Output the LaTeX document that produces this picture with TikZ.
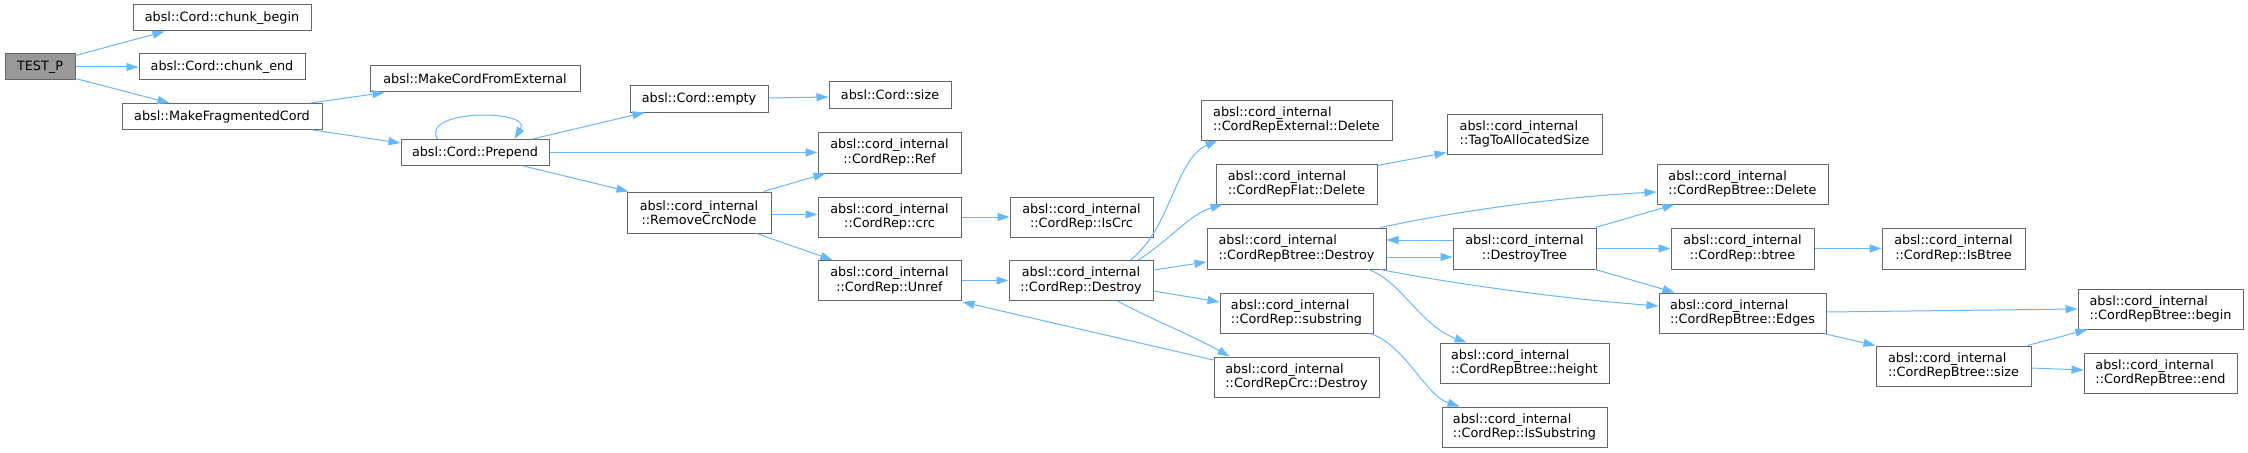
\documentclass[tikz,border=0pt]{standalone}
\usepackage{fontspec}
\setmainfont{DejaVu Sans}
\usetikzlibrary{arrows.meta,calc}
\definecolor{edgec}{HTML}{63B8FF}
\definecolor{boxc}{HTML}{666666}
\definecolor{rootc}{HTML}{999999}
\tikzset{
  fn/.style 2 args={draw=boxc, line width=0.75pt, fill=white, inner sep=0pt,
    minimum width=#1*0.75pt, minimum height=#2*0.75pt,
    font=\fontsize{9.6}{10.7}\selectfont, text=black},
  lft/.style={align=left},
  ctr/.style={align=center},
  call/.style={draw=edgec, line width=0.75pt, -{Triangle[length=9pt,width=6pt]}}
}
\begin{document}
\begin{tikzpicture}[x=0.75pt,y=-0.75pt]
\useasboundingbox (0,0) rectangle (2248,453);
% column 0-1
\node[fn={70}{26}, fill=rootc] (testp) at (40,67) {TEST\_P};
\node[fn={178}{26}] (chunkbegin) at (222,18) {absl::Cord::chunk\_begin};
\node[fn={166}{26}] (chunkend) at (222,67) {absl::Cord::chunk\_end};
\node[fn={200}{26}] (mfc) at (222,116.5) {absl::MakeFragmentedCord};
% column 2
\node[fn={210}{26}] (mcfe) at (475,79) {absl::MakeCordFromExternal};
\node[fn={148}{26}] (prepend) at (475,152.5) {absl::Cord::Prepend};
% column 3
\node[fn={138}{26}] (empty) at (699,99) {absl::Cord::empty};
\node[fn={144}{41}, ctr] (rcn) at (699,212.5) {absl::cord\_internal\\::RemoveCrcNode};
% column 4
\node[fn={122}{26}] (csize) at (890,95) {absl::Cord::size};
\node[fn={143}{41}, ctr] (ref) at (889.5,152.5) {absl::cord\_internal\\::CordRep::Ref};
\node[fn={143}{40}, ctr] (crc) at (889.5,217) {absl::cord\_internal\\::CordRep::crc};
\node[fn={143}{40}, ctr] (unref) at (889.5,280.5) {absl::cord\_internal\\::CordRep::Unref};
% column 5
\node[fn={143}{40}, ctr] (iscrc) at (1081.5,217) {absl::cord\_internal\\::CordRep::IsCrc};
\node[fn={144}{40}, ctr] (destroy) at (1081,280.5) {absl::cord\_internal\\::CordRep::Destroy};
% column 6
\node[fn={191}{40}, lft] (extdel) at (1296.5,120) {absl::cord\_internal\\::CordRepExternal::Delete};
\node[fn={161}{40}, lft] (flatdel) at (1296.5,184) {absl::cord\_internal\\::CordRepFlat::Delete};
\node[fn={179}{41}, lft] (btdestroy) at (1296.5,248.5) {absl::cord\_internal\\::CordRepBtree::Destroy};
\node[fn={153}{40}, lft] (substr) at (1296.5,313) {absl::cord\_internal\\::CordRep::substring};
\node[fn={165}{40}, lft] (crcdestroy) at (1296.5,377) {absl::cord\_internal\\::CordRepCrc::Destroy};
% column 7
\node[fn={155}{40}, lft] (tag) at (1524.5,134) {absl::cord\_internal\\::TagToAllocatedSize};
\node[fn={143}{41}, ctr] (dtree) at (1524.5,248.5) {absl::cord\_internal\\::DestroyTree};
\node[fn={169}{40}, lft] (height) at (1524.5,363) {absl::cord\_internal\\::CordRepBtree::height};
\node[fn={165}{40}, lft] (issub) at (1524.5,427) {absl::cord\_internal\\::CordRep::IsSubstring};
% column 8
\node[fn={171}{40}, lft] (btdel) at (1742.5,184) {absl::cord\_internal\\::CordRepBtree::Delete};
\node[fn={143}{41}, ctr] (btree) at (1742.5,248.5) {absl::cord\_internal\\::CordRep::btree};
\node[fn={167}{40}, lft] (edges) at (1742.5,313) {absl::cord\_internal\\::CordRepBtree::Edges};
% column 9
\node[fn={143}{41}, ctr] (isbtree) at (1953.5,248.5) {absl::cord\_internal\\::CordRep::IsBtree};
\node[fn={155}{40}, lft] (btsize) at (1953.5,366) {absl::cord\_internal\\::CordRepBtree::size};
% column 10
\node[fn={165}{40}, lft] (begin) at (2160.5,309) {absl::cord\_internal\\::CordRepBtree::begin};
\node[fn={153}{40}, lft] (end) at (2160.5,373) {absl::cord\_internal\\::CordRepBtree::end};

% edges
\draw[call] ($(testp.north east)+(0,2)$) -- ($(chunkbegin.south west)+(32,0)$);
\draw[call] (testp.east) -- (chunkend.west);
\draw[call] ($(testp.south east)+(0,-2)$) -- ($(mfc.north west)+(48,0)$);
\draw[call] ($(mfc.north east)+(-12,0)$) -- ($(mcfe.south west)+(15,0)$);
\draw[call] ($(mfc.south east)+(-10,0)$) -- ($(prepend.west)+(0,-9.5)$);
\draw[call] ($(prepend.north west)+(37,0)$) .. controls ($(prepend.north west)+(19,-30)$) and ($(prepend.north west)+(132,-30)$) .. ($(prepend.north west)+(114,0)$);
\draw[call] ($(prepend.north east)+(-17,0)$) -- ($(empty.south west)+(15,0)$);
\draw[call] (prepend.east) -- (ref.west);
\draw[call] ($(prepend.south east)+(-26,0)$) -- ($(rcn.north west)+(2,0)$);
\draw[call] ($(empty.east)+(0,-1)$) -- ($(csize.west)+(0,2)$);
\draw[call] ($(rcn.north east)+(-8,0)$) -- ($(ref.south west)+(8,0)$);
\draw[call] ($(rcn.east)+(0,2)$) -- ($(crc.west)+(0,-2.5)$);
\draw[call] ($(rcn.south east)+(-15,0)$) -- ($(unref.north west)+(15,0)$);
\draw[call] (crc.east) -- (iscrc.west);
\draw[call] (unref.east) -- (destroy.west);
\draw[call] ($(destroy.north east)+(-23,0)$) .. controls ($(destroy.north east)+(17,-31)$) and ($(destroy.north east)+(22,-101)$) .. ($(extdel.south west)+(17,0)$);
\draw[call] ($(destroy.north east)+(-15,0)$) .. controls ($(destroy.north east)+(17,-21)$) and ($(destroy.north east)+(37,-46)$) .. ($(flatdel.south west)+(7,0)$);
\draw[call] ($(destroy.east)+(0,-10.5)$) -- ($(btdestroy.west)+(0,13.5)$);
\draw[call] ($(destroy.east)+(0,10.5)$) -- ($(substr.west)+(0,-11)$);
\draw[call] ($(destroy.south east)+(-36,0)$) .. controls ($(destroy.south east)+(-5,17)$) and ($(destroy.south east)+(40,35)$) .. ($(crcdestroy.north west)+(16,0)$);
\draw[call] ($(crcdestroy.west)+(0,-17)$) -- ($(unref.south east)+(1,1)$);
\draw[call] ($(flatdel.north east)+(0,2)$) -- ($(tag.south west)+(0,-2)$);
\draw[call] ($(btdestroy.north east)+(-6,0)$) .. controls ($(btdestroy.north east)+(64,-15)$) and ($(btdestroy.north east)+(164,-30)$) .. ($(btdel.west)+(0,8)$);
\draw[call] ($(btdestroy.east)+(0,8.5)$) -- ($(dtree.west)+(0,8.5)$);
\draw[call] ($(dtree.west)+(0,-8.5)$) -- ($(btdestroy.east)+(0,-8.5)$);
\draw[call] ($(btdestroy.south east)+(-18,0)$) .. controls ($(btdestroy.south east)+(14,11)$) and ($(btdestroy.south east)+(34,56)$) .. ($(height.north west)+(27,0)$);
\draw[call] ($(btdestroy.south east)+(-6,0)$) .. controls ($(btdestroy.south east)+(64,14)$) and ($(btdestroy.south east)+(174,29)$) .. ($(edges.west)+(0,-7)$);
\draw[call] ($(substr.south east)+(-3,0)$) .. controls ($(substr.south east)+(32,12)$) and ($(substr.south east)+(52,62)$) .. ($(issub.north west)+(18,0)$);
\draw[call] ($(dtree.north east)+(-1,0)$) -- ($(btdel.south west)+(18,0)$);
\draw[call] (dtree.east) -- (btree.west);
\draw[call] ($(dtree.south east)+(-1,0)$) -- ($(edges.north west)+(16,0)$);
\draw[call] (btree.east) -- (isbtree.west);
\draw[call] ($(edges.east)+(0,-1)$) -- (begin.west);
\draw[call] ($(edges.south east)+(-3,0)$) -- (btsize.north west);
\draw[call] ($(btsize.north east)+(-4,0)$) -- ($(begin.south west)+(10,0)$);
\draw[call] ($(btsize.east)+(0,2)$) -- ($(end.west)+(0,-3)$);
\end{tikzpicture}
\end{document}
